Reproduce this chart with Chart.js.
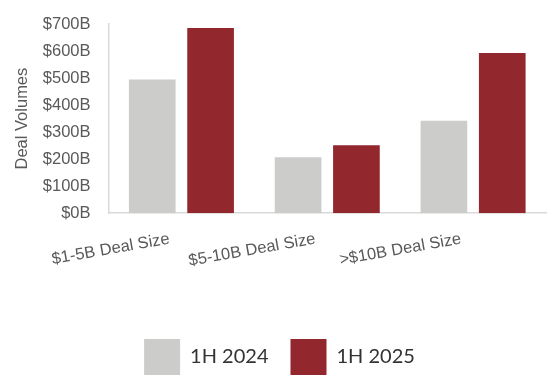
<!DOCTYPE html>
<html>
<head>
<meta charset="utf-8">
<script src="https://cdn.jsdelivr.net/npm/chart.js@4"></script>
<style>
  html, body { margin: 0; padding: 0; background: #fff; }
  #wrap { width: 556px; height: 389px; }
</style>
</head>
<body>
<div id="wrap"><canvas id="dealChart"></canvas></div>
<script>
const categories = ['$1-5B Deal Size', '$5-10B Deal Size', '>$10B Deal Size'];
const h1_2024 = [495, 207, 342];
const h1_2025 = [685, 251, 593];

const ctx = document.getElementById('dealChart').getContext('2d');
const dealChart = new Chart(ctx, {
    type: 'bar',
    data: {
        labels: categories,
        datasets: [{
            label: '1H 2024',
            data: h1_2024,
            backgroundColor: '#cccccb',
        }, {
            label: '1H 2025',
            data: h1_2025,
            backgroundColor: '#92272d',
        }]
    },
    options: {
        responsive: true,
        maintainAspectRatio: false,
        animation: false,
        categoryPercentage: 0.8,
        barPercentage: 0.8,
        layout: {
            padding: { top: 24, right: 10, left: 13, bottom: 4 }
        },
        scales: {
            x: {
                grid: { display: false },
                border: { display: true, color: '#d9d9d9', width: 1.5 },
                ticks: {
                    color: '#595959',
                    font: { family: 'Liberation Sans', size: 16.5 },
                    minRotation: 10,
                    maxRotation: 10,
                    padding: 8,
                    labelOffset: -12
                },
                afterFit(scale) {
                    scale.height += 38;
                }
            },
            y: {
                min: 0,
                max: 700,
                grid: { display: false },
                border: { display: true, color: '#d9d9d9', width: 1.5 },
                ticks: {
                    stepSize: 100,
                    color: '#595959',
                    font: { family: 'Liberation Sans', size: 16.5 },
                    padding: 10,
                    callback: v => '$' + v + 'B'
                },
                title: {
                    display: true,
                    text: 'Deal Volumes',
                    color: '#595959',
                    font: { family: 'Liberation Sans', size: 16.5 },
                    padding: { top: 0, bottom: 0 }
                }
            }
        },
        plugins: {
            legend: {
                position: 'bottom',
                labels: {
                    boxWidth: 36,
                    boxHeight: 36,
                    padding: 22,
                    color: '#333333',
                    font: { family: 'Lato', size: 20 }
                }
            },
            tooltip: { enabled: false }
        }
    }
});
</script>
</body>
</html>
